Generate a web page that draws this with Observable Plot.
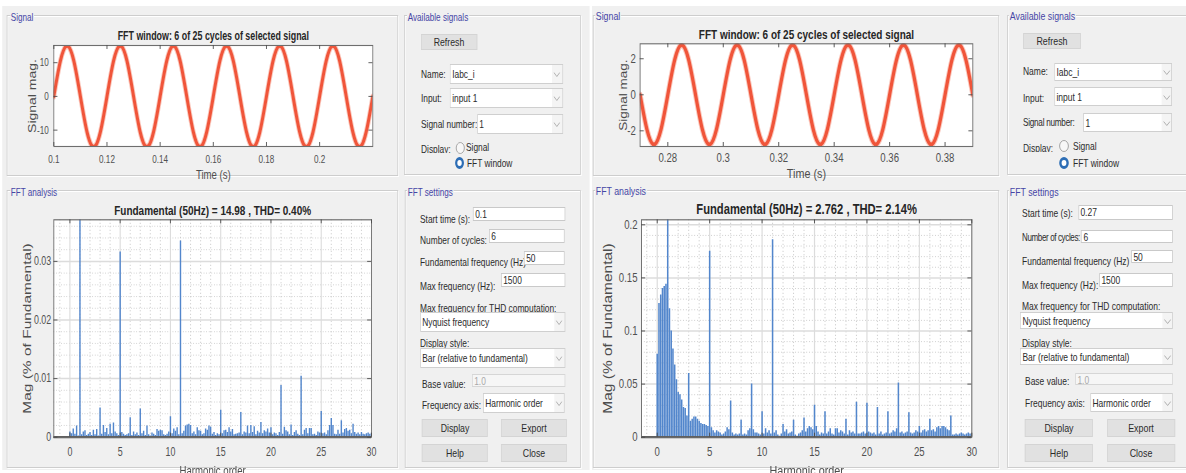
<!DOCTYPE html>
<html>
<head>
<meta charset="utf-8">
<script src="https://cdn.jsdelivr.net/npm/d3@7"></script>
<script src="https://cdn.jsdelivr.net/npm/@observablehq/plot@0.6"></script>
<style>
html, body { margin:0; padding:0; background:#ffffff; width:1186px; height:473px; overflow:hidden; }
#root { position:relative; width:1186px; height:473px; overflow:hidden; }
.stage { position:absolute; top:0; height:473px; transform-origin:0 0; font-family:"Liberation Sans", Arial, sans-serif; overflow:hidden; }
.fig { position:absolute; background:#f0f0f0; }
.panel { position:absolute; box-sizing:border-box; border:1px solid #cdcdcd; box-shadow: inset 1px 1px 0 #ffffff, 1px 1px 0 #ffffff; }
.legend { position:absolute; height:12px; line-height:12px; font-size:11px; color:#4646a6; background:#f0f0f0; padding:0 1px; white-space:nowrap; }
.lbl { position:absolute; height:14px; line-height:14px; color:#2b2b2b; white-space:nowrap; }
.clip { overflow:hidden; }
.edit { position:absolute; box-sizing:border-box; background:#fff; border:1px solid #c9c9c9; line-height:11px; color:#2b2b2b; padding:1px 0 0 2px; overflow:hidden; white-space:nowrap; }
.edit.off { background:#f6f6f6; border-color:#d6d6d6; color:#a9a9a9; }
.drop { position:absolute; box-sizing:border-box; border:1px solid #cfcfcf; background:#f4f4f4; }
.drop .face { position:absolute; left:0; top:0; bottom:0; background:#fff; color:#2b2b2b; padding-left:2px; white-space:nowrap; overflow:hidden; display:flex; align-items:center; }
.drop svg { position:absolute; top:50%; margin-top:-2px; }
.btn { position:absolute; box-sizing:border-box; background:#e1e1e1; border:1px solid #d4d4d4; color:#2b2b2b; display:flex; align-items:center; justify-content:center; }
.radio { position:absolute; box-sizing:border-box; width:12px; height:12px; border-radius:50%; }
.radio.offr { border:1px solid #9c9c9c; background:#f7f7f7; }
.radio.onr { border:3.5px solid #2c6db5; background:#fff; }
.chart { position:absolute; }
.chart svg { max-width:none !important; display:block; }
</style>
</head>
<body>
<div id="root"></div>
<script>
// ---------------- DATA ----------------
// Left case: signal window 0.1 s .. 0.22 s (6 cycles of 50 Hz)
const leftTime = [0.1,0.1025,0.105,0.1075,0.11,0.1125,0.115,0.1175,0.12,0.1225,0.125,0.1275,0.13,0.1325,0.135,0.1375,0.14,0.1425,0.145,0.1475,0.15,0.1525,0.155,0.1575,0.16,0.1625,0.165,0.1675,0.17,0.1725,0.175,0.1775,0.18,0.1825,0.185,0.1875,0.19,0.1925,0.195,0.1975,0.2,0.2025,0.205,0.2075,0.21,0.2125,0.215,0.2175,0.22];
const leftSignal = [0,10.6,15,10.6,0,-10.6,-15,-10.6, 0,10.6,15,10.6,0,-10.6,-15,-10.6, 0,10.6,15,10.6,0,-10.6,-15,-10.6, 0,10.6,15,10.6,0,-10.6,-15,-10.6, 0,10.6,15,10.6,0,-10.6,-15,-10.6, 0,10.6,15,10.6,0,-10.6,-15,-10.6, 0];
// Right case: signal window 0.27 s .. 0.39 s
const rightTime = [0.27,0.2725,0.275,0.2775,0.28,0.2825,0.285,0.2875,0.29,0.2925,0.295,0.2975,0.3,0.3025,0.305,0.3075,0.31,0.3125,0.315,0.3175,0.32,0.3225,0.325,0.3275,0.33,0.3325,0.335,0.3375,0.34,0.3425,0.345,0.3475,0.35,0.3525,0.355,0.3575,0.36,0.3625,0.365,0.3675,0.37,0.3725,0.375,0.3775,0.38,0.3825,0.385,0.3875,0.39];
const rightSignal = [0,-1.95,-2.76,-1.95,0,1.95,2.76,1.95, 0,-1.95,-2.76,-1.95,0,1.95,2.76,1.95, 0,-1.95,-2.76,-1.95,0,1.95,2.76,1.95, 0,-1.95,-2.76,-1.95,0,1.95,2.76,1.95, 0,-1.95,-2.76,-1.95,0,1.95,2.76,1.95, 0,-1.95,-2.76,-1.95,0,1.95,2.76,1.95, 0];

// FFT bins: 6 cycles -> 6 bins per harmonic (0 .. 30)
const binsPerHarmonic = 6;
const leftMag = [
 0.0009,0.0006,0.0014,0.0005,0.0019,0.0002,
 1.0000,0.0004,0.0009,0.0011,0.0003,0.0005,
 0.0008,0.0003,0.0012,0.0004,0.0013,0.0002,
 0.0050,0.0005,0.0020,0.0008,0.0015,0.0004,
 0.0022,0.0006,0.0024,0.0009,0.0006,0.0003,
 0.0316,0.0008,0.0005,0.0003,0.0004,0.0006,
 0.0033,0.0003,0.0009,0.0004,0.0007,0.0003,
 0.0048,0.0006,0.0010,0.0003,0.0019,0.0004,
 0.0002,0.0007,0.0005,0.0003,0.0013,0.0010,
 0.0012,0.0011,0.0004,0.0003,0.0005,0.0009,
 0.0035,0.0006,0.0014,0.0010,0.0016,0.0004,
 0.0335,0.0006,0.0010,0.0019,0.0021,0.0022,
 0.0020,0.0006,0.0009,0.0004,0.0016,0.0011,
 0.0010,0.0004,0.0006,0.0014,0.0012,0.0019,
 0.0017,0.0005,0.0008,0.0003,0.0006,0.0004,
 0.0046,0.0006,0.0011,0.0012,0.0008,0.0016,
 0.0009,0.0013,0.0004,0.0005,0.0006,0.0007,
 0.0042,0.0004,0.0009,0.0007,0.0019,0.0006,
 0.0020,0.0008,0.0018,0.0004,0.0010,0.0007,
 0.0025,0.0006,0.0011,0.0009,0.0014,0.0007,
 0.0016,0.0004,0.0007,0.0006,0.0003,0.0008,
 0.0088,0.0005,0.0017,0.0011,0.0009,0.0004,
 0.0021,0.0003,0.0008,0.0011,0.0005,0.0003,
 0.0104,0.0004,0.0012,0.0015,0.0006,0.0015,
 0.0015,0.0004,0.0005,0.0003,0.0009,0.0007,
 0.0044,0.0006,0.0007,0.0004,0.0011,0.0020,
 0.0032,0.0020,0.0005,0.0004,0.0012,0.0005,
 0.0028,0.0007,0.0013,0.0015,0.0010,0.0012,
 0.0006,0.0022,0.0008,0.0005,0.0007,0.0004,
 0.0008,0.0005,0.0004,0.0006,0.0007,0.0005,
 0.0007
];
const rightMag = [
 0.078,0.126,0.134,0.140,0.142,0.144,
 1.000,0.121,0.100,0.083,0.068,0.054,
 0.042,0.040,0.035,0.028,0.027,0.020,
 0.060,0.015,0.017,0.019,0.019,0.017,
 0.015,0.013,0.012,0.012,0.011,0.010,
 0.175,0.009,0.006,0.004,0.006,0.005,
 0.004,0.002,0.003,0.005,0.009,0.007,
 0.034,0.004,0.002,0.003,0.002,0.003,
 0.016,0.002,0.003,0.002,0.006,0.008,
 0.050,0.007,0.004,0.004,0.003,0.002,
 0.024,0.003,0.008,0.004,0.006,0.003,
 0.186,0.004,0.006,0.002,0.001,0.003,
 0.012,0.005,0.007,0.003,0.004,0.005,
 0.016,0.002,0.001,0.003,0.004,0.006,
 0.018,0.005,0.008,0.010,0.009,0.007,
 0.030,0.010,0.005,0.002,0.004,0.003,
 0.024,0.003,0.005,0.008,0.003,0.002,
 0.008,0.008,0.004,0.006,0.005,0.003,
 0.017,0.002,0.006,0.004,0.005,0.003,
 0.033,0.003,0.003,0.004,0.005,0.003,
 0.032,0.005,0.004,0.003,0.004,0.002,
 0.028,0.003,0.005,0.002,0.003,0.004,
 0.024,0.003,0.004,0.006,0.005,0.008,
 0.051,0.004,0.005,0.003,0.004,0.005,
 0.023,0.004,0.003,0.004,0.006,0.005,
 0.010,0.004,0.006,0.007,0.005,0.006,
 0.017,0.006,0.007,0.005,0.009,0.010,
 0.008,0.010,0.010,0.009,0.007,0.006,
 0.020,0.002,0.002,0.003,0.002,0.003,
 0.004,0.003,0.002,0.003,0.004,0.003,
 0.003
];

// tick labels
const leftTimeTicks = [0.1,0.12,0.14,0.16,0.18,0.2];
const leftSigTicks = [-10,0,10];
const rightTimeTicks = [0.28,0.3,0.32,0.34,0.36,0.38];
const rightSigTicks = [-2,0,2];
const harmonicTicks = [0,5,10,15,20,25,30];
const leftMagTicks = [0,0.01,0.02,0.03];
const rightMagTicks = [0,0.05,0.1,0.15,0.2];

// titles / texts
const sigTitle = "FFT window: 6 of 25 cycles of selected signal";
const leftFftTitle = "Fundamental (50Hz) = 14.98 , THD= 0.40%";
const rightFftTitle = "Fundamental (50Hz) = 2.762 , THD= 2.14%";

// ---------------- LAYOUT HELPERS ----------------
const root = document.getElementById('root');
function makeStage(x0, x1, S, font) {
  const el = document.createElement('div');
  el.className = 'stage';
  el.style.left = x0 + 'px';
  el.style.width = ((x1 - x0) / S) + 'px';
  el.style.transform = `scaleX(${S})`;
  root.appendChild(el);
  return {el, S, x0, font, X: x => (x - x0) / S, W: w => w / S};
}
function add(st, cls, x, y, w, h, text) {
  const d = document.createElement('div');
  d.className = cls;
  d.style.left = st.X(x) + 'px';
  d.style.top = y + 'px';
  if (w != null) d.style.width = st.W(w) + 'px';
  if (h != null) d.style.height = h + 'px';
  if (text != null) d.textContent = text;
  st.el.appendChild(d);
  return d;
}
function fig(st, x, y, w, h) { add(st, 'fig', x, y, w, h); }
function panel(st, x, y, w, h) { add(st, 'panel', x, y, w, h); }
function legend(st, x, cy, t) { add(st, 'legend', x, cy - 6, null, null, t); }
function lbl(st, x, cy, t, clipY, fs, ls) {
  const d = add(st, 'lbl' + (clipY ? ' clip' : ''), x, cy - 7, null, clipY ? clipY - (cy - 7) : null, t);
  d.style.fontSize = (fs || st.font) + 'px';
  if (ls) d.style.letterSpacing = ls + 'px';
}
function edit(st, x, y, w, h, t, off) {
  const d = add(st, 'edit' + (off ? ' off' : ''), x, y, w, h, t);
  d.style.fontSize = st.font + 'px';
}
function drop(st, x, y, w, h, t) {
  const d = add(st, 'drop', x, y, w, h);
  const f = document.createElement('div');
  f.className = 'face';
  f.style.width = st.W(w - 13) + 'px';
  f.style.fontSize = st.font + 'px';
  f.textContent = t;
  d.appendChild(f);
  const ns = 'http://www.w3.org/2000/svg';
  const s = document.createElementNS(ns, 'svg');
  s.setAttribute('width', '9'); s.setAttribute('height', '5');
  s.style.left = st.W(w - 10) + 'px';
  const p = document.createElementNS(ns, 'polyline');
  p.setAttribute('points', '0.5,0.5 4.5,4.5 8.5,0.5');
  p.setAttribute('fill', 'none'); p.setAttribute('stroke', '#a8a8a8'); p.setAttribute('stroke-width', '1');
  s.appendChild(p); d.appendChild(s);
}
function btn(st, x, y, w, h, t) {
  const d = add(st, 'btn', x, y, w, h, t);
  d.style.fontSize = (st.font + 0.5) + 'px';
}
function radio(st, x, y, on) { add(st, 'radio ' + (on ? 'onr' : 'offr'), x, y); }

const baseStyle = (fs) => ({fontFamily: '"Liberation Sans", Arial, sans-serif', fontSize: fs + 'px', color: '#505050', background: 'transparent', overflow: 'hidden'});

function frameGeom(st, svgBox, axBox) {
  const S = st.S;
  const [sx0, sy0, sx1, sy1] = svgBox, [ax0, ay0, ax1, ay1] = axBox;
  const width = (sx1 - sx0) / S, height = sy1 - sy0;
  const mL = (ax0 - sx0) / S, mR = (sx1 - ax1) / S, mT = ay0 - sy0, mB = sy1 - ay1;
  return {width, height, mL, mR, mT, mB, iW: width - mL - mR, iH: height - mT - mB};
}
function mount(st, svgBox, svg, g) {
  const w = document.createElement('div');
  w.className = 'chart';
  w.style.left = st.X(svgBox[0]) + 'px';
  w.style.top = svgBox[1] + 'px';
  w.style.width = g.width + 'px';
  w.style.height = g.height + 'px';
  w.appendChild(svg);
  st.el.appendChild(w);
}
function tickMarks(o, g, S) {
  const t = 4;
  return [
    Plot.ruleX(o.xTicks, {stroke: '#4a4a4a', insetBottom: g.iH - t}),
    Plot.ruleX(o.xTicks, {stroke: '#4a4a4a', insetTop: g.iH - t}),
    Plot.ruleY(o.yTicks, {stroke: '#4a4a4a', insetRight: g.iW - t / S}),
    Plot.ruleY(o.yTicks, {stroke: '#4a4a4a', insetLeft: g.iW - t / S})
  ];
}
function labelMarks(o) {
  return [
    Plot.text([o.title], {text: d => d, frameAnchor: 'top', dy: o.titleDy, lineAnchor: 'middle', textAnchor: 'middle', fontSize: o.titleSize, fontWeight: 'bold', fill: '#262626'}),
    Plot.text([o.xLabel], {text: d => d, frameAnchor: 'bottom', dy: o.xLabelDy, lineAnchor: 'middle', textAnchor: 'middle', fontSize: o.xLabelSize, fill: '#4d4d4d'}),
    Plot.text([o.yLabel], {text: d => d, frameAnchor: 'left', dx: o.yLabelDx, lineAnchor: 'middle', textAnchor: 'middle', rotate: -90, fontSize: o.yLabelSize, fill: '#4d4d4d'})
  ];
}

function signalChart(st, o) {
  const g = frameGeom(st, o.svg, o.axes);
  const data = o.t.map((t, i) => ({t, v: o.v[i]}));
  const svg = Plot.plot({
    width: g.width, height: g.height,
    marginLeft: g.mL, marginRight: g.mR, marginTop: g.mT, marginBottom: g.mB,
    style: baseStyle(o.tickFont),
    x: {domain: o.xDomain, ticks: o.xTicks, tickFormat: d => String(d), tickSize: 0, tickPadding: o.xPad, label: null},
    y: {domain: o.yDomain, ticks: o.yTicks, tickFormat: d => String(d), tickSize: 0, tickPadding: o.yPad, label: null},
    marks: [
      Plot.frame({fill: '#ffffff', stroke: 'none'}),
      Plot.line(data, {x: 't', y: 'v', curve: 'natural', stroke: '#f59a86', strokeWidth: 6.4, strokeOpacity: 0.55, clip: true}),
      Plot.line(data, {x: 't', y: 'v', curve: 'natural', stroke: '#f0553a', strokeWidth: 4, clip: true}),
      Plot.frame({stroke: '#6e6e6e', strokeWidth: 1.1}),
      ...tickMarks(o, g, st.S),
      ...labelMarks(o)
    ]
  });
  mount(st, o.svg, svg, g);
}

function fftChart(st, o) {
  const g = frameGeom(st, o.svg, o.axes);
  const bins = o.mag.map((v, i) => ({h: i / binsPerHarmonic, v}));
  const svg = Plot.plot({
    width: g.width, height: g.height,
    marginLeft: g.mL, marginRight: g.mR, marginTop: g.mT, marginBottom: g.mB,
    style: baseStyle(o.tickFont),
    x: {domain: o.xDomain, ticks: o.xTicks, tickFormat: d => String(d), tickSize: 0, tickPadding: o.xPad, label: null},
    y: {domain: o.yDomain, ticks: o.yTicks, tickFormat: d => String(d), tickSize: 0, tickPadding: o.yPad, label: null},
    marks: [
      Plot.frame({fill: '#ffffff', stroke: 'none'}),
      Plot.ruleX(o.xMinor, {stroke: '#bdbdbd', strokeWidth: 1, strokeDasharray: '1,2.5'}),
      Plot.ruleY(o.yMinor, {stroke: '#bdbdbd', strokeWidth: 1, strokeDasharray: '1,2.5'}),
      Plot.ruleX(o.xTicks, {stroke: '#dcdcdc', strokeWidth: 1.5}),
      Plot.ruleY(o.yTicks, {stroke: '#dcdcdc', strokeWidth: 1.5}),
      Plot.ruleX(bins, {x: 'h', y1: 0, y2: 'v', stroke: '#5286cc', strokeWidth: 1.9, clip: true}),
      Plot.ruleY([0], {stroke: '#585858', strokeWidth: 2.2}),
      Plot.frame({stroke: '#6e6e6e', strokeWidth: 1.2}),
      ...tickMarks(o, g, st.S),
      ...labelMarks(o)
    ]
  });
  mount(st, o.svg, svg, g);
}

// ---------------- LEFT SCREEN ----------------
const L = makeStage(0, 590, 0.74, 11.3);
fig(L, 2, 6, 588, 464);
panel(L, 7, 15, 391, 161);
panel(L, 404, 15, 177, 160);
panel(L, 7, 190, 391, 278);
panel(L, 405, 190, 176, 278);
legend(L, 10, 17, 'Signal');
legend(L, 407, 17, 'Available signals');
legend(L, 10, 192, 'FFT analysis');
legend(L, 407, 192, 'FFT settings');

btn(L, 421, 34, 56, 16, 'Refresh');
lbl(L, 421, 74, 'Name:');
lbl(L, 421, 98, 'Input:');
lbl(L, 421, 124, 'Signal number:');
lbl(L, 421, 149, 'Display:', 152.5);
drop(L, 450, 64, 113, 20, 'Iabc_i');
drop(L, 450, 88, 113, 20, 'input 1');
drop(L, 477, 114, 86, 20, '1');
radio(L, 456, 142, false); lbl(L, 466, 147, 'Signal');
radio(L, 455, 157, true); lbl(L, 467, 163, 'FFT window');

lbl(L, 420, 219, 'Start time (s):');
lbl(L, 420, 240, 'Number of cycles:');
lbl(L, 420, 262, 'Fundamental frequency (Hz)');
lbl(L, 420, 286, 'Max frequency (Hz):');
lbl(L, 420, 308, 'Max frequency for THD computation:');
lbl(L, 420, 343, 'Display style:');
lbl(L, 422, 384, 'Base value:');
lbl(L, 422, 405, 'Frequency axis:');
edit(L, 473, 207, 92, 14, '0.1');
edit(L, 489, 229, 76, 14, '6');
edit(L, 524, 251, 41, 14, '50');
edit(L, 501, 273, 64, 14, '1500');
drop(L, 420, 312, 145, 20, 'Nyquist frequency');
drop(L, 420, 348, 145, 20, 'Bar (relative to fundamental)');
edit(L, 472, 374, 93, 13, '1.0', true);
drop(L, 483, 393, 82, 20, 'Harmonic order');
btn(L, 422, 419, 66, 18, 'Display');
btn(L, 501, 419, 66, 18, 'Export');
btn(L, 422, 444, 66, 18, 'Help');
btn(L, 501, 444, 66, 18, 'Close');

signalChart(L, {
  svg: [8, 20, 397, 186], axes: [53.3, 45, 372.3, 146],
  t: leftTime, v: leftSignal,
  xDomain: [0.1, 0.22], xTicks: leftTimeTicks, yDomain: [-14.85, 15.1], yTicks: leftSigTicks,
  tickFont: 11, xPad: 8.3, yPad: 6.8,
  title: sigTitle, titleDy: -9.5, titleSize: 12,
  xLabel: 'Time (s)', xLabelDy: 28.6, xLabelSize: 13,
  yLabel: 'Signal mag.', yLabelDx: -28.8, yLabelSize: 14
});
fftChart(L, {
  svg: [8, 196, 397, 473], axes: [53.3, 219.3, 371, 436.7],
  mag: leftMag,
  xDomain: [-1.6, 30], xTicks: harmonicTicks, xMinor: d3.range(-1, 30).filter(d => d % 5 !== 0),
  yDomain: [0, 0.0371], yTicks: leftMagTicks, yMinor: d3.range(1, 19).filter(k => k % 5 !== 0).map(k => k * 0.002),
  tickFont: 12, xPad: 10, yPad: 3.5,
  title: leftFftTitle, titleDy: -9.6, titleSize: 13.5,
  xLabel: 'Harmonic order', xLabelDy: 33.5, xLabelSize: 13,
  yLabel: 'Mag (% of Fundamental)', yLabelDx: -35.5, yLabelSize: 15.5
});

// ---------------- RIGHT SCREEN ----------------
const R = makeStage(592, 1186, 0.8, 10.6);
fig(R, 592, 6, 594, 464);
panel(R, 593, 15, 406, 161);
panel(R, 1007, 15, 190, 160);
panel(R, 593, 190, 406, 278);
panel(R, 1007, 190, 190, 278);
legend(R, 595, 16, 'Signal');
legend(R, 1009, 16, 'Available signals');
legend(R, 595, 191, 'FFT analysis');
legend(R, 1009, 192, 'FFT settings');

btn(R, 1023, 33, 58, 16, 'Refresh');
lbl(R, 1023, 71, 'Name:');
lbl(R, 1023, 98, 'Input:');
lbl(R, 1023, 123, 'Signal number:', null, 10.2, -0.3);
lbl(R, 1023, 148, 'Display:', 151.5);
drop(R, 1054, 63, 118, 18, 'Iabc_i');
drop(R, 1054, 87, 118, 19, 'input 1');
drop(R, 1083, 113, 89, 19, '1');
radio(R, 1059, 140, false); lbl(R, 1073, 146, 'Signal');
radio(R, 1059, 157, true); lbl(R, 1073, 163, 'FFT window');

lbl(R, 1022, 213, 'Start time (s):');
lbl(R, 1022, 238, 'Number of cycles:', null, 10, -0.45);
lbl(R, 1022, 261, 'Fundamental frequency (Hz)');
lbl(R, 1022, 285, 'Max frequency (Hz):');
lbl(R, 1022, 306, 'Max frequency for THD computation:');
lbl(R, 1022, 343, 'Display style:');
lbl(R, 1025, 381, 'Base value:');
lbl(R, 1025, 403, 'Frequency axis:');
edit(R, 1078, 205, 95, 15, '0.27');
edit(R, 1081, 230, 92, 13, '6');
edit(R, 1131, 250, 42, 13, '50');
edit(R, 1099, 273, 74, 14, '1500');
drop(R, 1020, 312, 153, 17, 'Nyquist frequency');
drop(R, 1020, 348, 153, 17, 'Bar (relative to fundamental)');
edit(R, 1075, 373, 98, 12, '1.0', true);
drop(R, 1090, 393, 83, 19, 'Harmonic order');
btn(R, 1025, 419, 68, 18, 'Display');
btn(R, 1107, 419, 68, 18, 'Export');
btn(R, 1025, 444, 68, 18, 'Help');
btn(R, 1107, 444, 68, 18, 'Close');

signalChart(R, {
  svg: [594, 20, 998, 186], axes: [639.3, 43.3, 972, 146],
  t: rightTime, v: rightSignal,
  xDomain: [0.27, 0.39], xTicks: rightTimeTicks, yDomain: [-2.87, 2.83], yTicks: rightSigTicks,
  tickFont: 12, xPad: 6.7, yPad: 5.4,
  title: sigTitle, titleDy: -8.8, titleSize: 12.5,
  xLabel: 'Time (s)', xLabelDy: 27, xLabelSize: 13.5,
  yLabel: 'Signal mag.', yLabelDx: -20.4, yLabelSize: 13.5
});
fftChart(R, {
  svg: [594, 196, 998, 473], axes: [640.7, 219.3, 971, 436.7],
  mag: rightMag,
  xDomain: [-1.5, 30], xTicks: harmonicTicks, xMinor: d3.range(-1, 30).filter(d => d % 5 !== 0),
  yDomain: [0, 0.2047], yTicks: rightMagTicks, yMinor: d3.range(1, 21).filter(k => k % 5 !== 0).map(k => k * 0.01),
  tickFont: 12, xPad: 10, yPad: 5,
  title: rightFftTitle, titleDy: -10.6, titleSize: 14,
  xLabel: 'Harmonic order', xLabelDy: 33.5, xLabelSize: 13.5,
  yLabel: 'Mag (% of Fundamental)', yLabelDx: -41.5, yLabelSize: 15.5
});
</script>
</body>
</html>
